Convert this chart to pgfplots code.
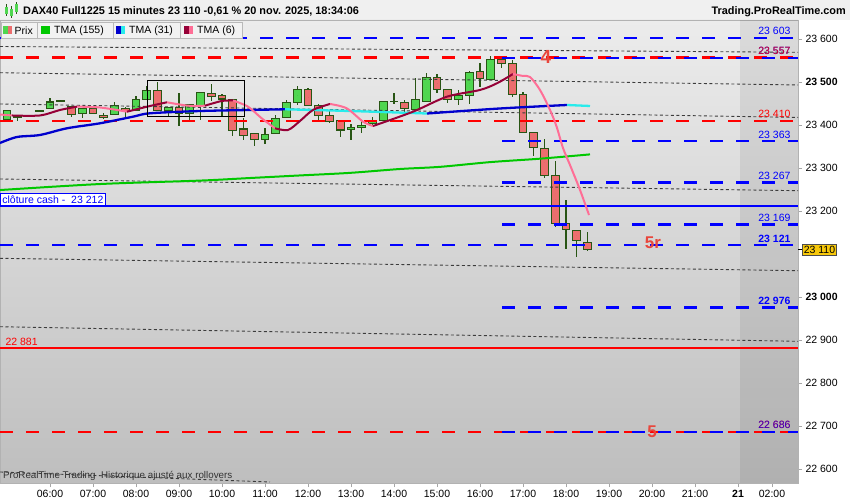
\documentclass[border=0pt]{standalone}
\usepackage{pgfplots}
\pgfplotsset{compat=1.18}
\usepackage{pgfplotstable}
\usepackage{fontspec}
\setmainfont{Liberation Sans}

\definecolor{wick}{RGB}{40,85,20}
\definecolor{upcol}{RGB}{80,214,80}
\definecolor{dncol}{RGB}{236,110,110}
\definecolor{tmagreen}{RGB}{0,200,0}
\definecolor{tmablue}{RGB}{0,0,205}
\definecolor{tmacyan}{RGB}{40,235,235}
\definecolor{tmared}{RGB}{150,0,55}
\definecolor{tmapink}{RGB}{255,110,150}
\definecolor{lvlblue}{RGB}{0,0,255}
\definecolor{lvlred}{RGB}{255,0,0}
\definecolor{annot}{RGB}{232,70,60}
\definecolor{bgtop}{RGB}{236,236,236}
\definecolor{bgbot}{RGB}{190,190,190}
\definecolor{trend}{RGB}{60,60,60}
\definecolor{lastp}{RGB}{247,200,10}
\definecolor{titlebg}{RGB}{240,240,240}
\definecolor{legbg}{RGB}{242,242,242}

\newcommand{\lbl}{\fontsize{10.5}{12}\selectfont}

% time (hours), open, high, low, close
\pgfplotstableread{
t O H L C
5.00 23414 23436 23412 23435
5.25 23420 23424 23410 23419
5.75 23434 23435 23433 23433
6.00 23439 23463 23439 23454
6.25 23457 23458 23456 23456
6.75 23427 23438 23417 23438
7.50 23425 23453 23425 23445
8.00 23435 23468 23434 23460
8.25 23460 23491 23459 23480
8.75 23433 23442 23418 23442
9.25 23428 23448 23413 23447
9.50 23445 23477 23413 23477
11.00 23367 23393 23356 23379
11.25 23381 23424 23381 23416
11.50 23418 23459 23418 23453
11.75 23453 23492 23447 23484
13.00 23390 23403 23365 23395
13.25 23395 23410 23382 23400
13.50 23403 23420 23396 23412
13.75 23410 23456 23409 23456
14.00 23455 23476 23449 23456
14.50 23437 23509 23437 23459
14.75 23455 23521 23455 23511
15.50 23460 23482 23447 23469
15.75 23469 23525 23449 23523
16.25 23507 23560 23507 23554
}\upcandles

\pgfplotstableread{
t O H L C
6.50 23443 23444 23420 23425
7.00 23438 23439 23426 23428
7.25 23423 23428 23415 23418
7.75 23439 23442 23416 23434
8.50 23480 23501 23433 23435
9.00 23442 23474 23399 23428
9.75 23474 23495 23457 23466
10.00 23469 23472 23418 23461
10.25 23460 23461 23376 23387
10.50 23391 23416 23366 23377
10.75 23381 23382 23352 23367
12.00 23484 23487 23444 23445
12.25 23445 23449 23412 23422
12.50 23423 23434 23406 23408
12.75 23410 23410 23373 23389
14.25 23453 23459 23430 23438
15.00 23511 23519 23474 23484
15.25 23484 23484 23451 23460
16.00 23526 23544 23490 23509
16.50 23554 23560 23532 23544
16.75 23544 23552 23466 23472
17.00 23472 23477 23381 23383
17.25 23383 23383 23328 23348
17.50 23346 23367 23278 23282
17.75 23282 23317 23164 23172
18.00 23172 23227 23112 23158
18.25 23154 23156 23094 23131
18.50 23127 23152 23108 23110
}\dncandles

\pgfplotsset{
  wickstyle/.style={only marks, no markers, mark size=0pt, forget plot,
    error bars/.cd, y dir=both, y explicit, error mark=none,
    error bar style={line width=1.3pt, draw=wick, solid}},
  bodyborder/.style={only marks, no markers, mark size=0pt, forget plot,
    error bars/.cd, y dir=both, y explicit, error mark=none,
    error bar style={line width=8.8pt, draw=wick, solid}},
  bodyfill/.style={only marks, no markers, mark size=0pt, forget plot,
    error bars/.cd, y dir=both, y explicit, error mark=none,
    error bar style={line width=6.8pt, draw=#1, solid}},
  reddash/.style={draw=lvlred, line width=2.6pt, dash pattern=on 12.7pt off 13.3pt},
  bluedash/.style={draw=lvlblue, line width=2.4pt, dash pattern=on 12.7pt off 13.3pt},
  trendl/.style={draw=trend, line width=0.9pt, dash pattern=on 3pt off 2.5pt},
}

\begin{document}
\begin{tikzpicture}
\useasboundingbox (0pt,0pt) rectangle (850pt,500pt);
\fill[white] (0pt,0pt) rectangle (850pt,500pt);
\fill[titlebg] (0pt,480pt) rectangle (850pt,500pt);
\begin{axis}[
  at={(0pt,17pt)}, anchor=south west, scale only axis,
  width=798pt, height=463pt,
  xmin=4.8372, xmax=23.3953, ymin=22566.95, ymax=23644.9,
  scaled ticks=false,
  axis background/.style={top color=bgtop, bottom color=bgbot},
  axis line style={draw=gray!60, line width=0.6pt},
  xtick={6,7,8,9,10,11,12,13,14,15,16,17,18,19,20,21,22,22.79},
  xticklabels={06:00,07:00,08:00,09:00,10:00,11:00,12:00,13:00,14:00,15:00,16:00,17:00,18:00,19:00,20:00,21:00,\textbf{21},02:00},
  ytick={22600,22700,22800,22900,23000,23200,23300,23400,23500,23600},
  yticklabels={22 600,22 700,22 800,22 900,\textbf{23 000},23 200,23 300,23 400,\textbf{23 500},23 600},
  xtick pos=bottom, ytick pos=right, yticklabel pos=right,
  tick align=outside, major tick length=4pt,
  tick style={draw=gray!70, line width=0.6pt},
  tick label style={font=\lbl, text=black},
]
% future region
\fill[black, opacity=0.07] (axis cs:22.047,22566.95) rectangle (axis cs:23.3953,23644.9);

% candles
\addplot[wickstyle] table[x=t, y expr={(\thisrow{H}+\thisrow{L})/2}, y error expr={(\thisrow{H}-\thisrow{L})/2}] {\upcandles};
\addplot[wickstyle] table[x=t, y expr={(\thisrow{H}+\thisrow{L})/2}, y error expr={(\thisrow{H}-\thisrow{L})/2}] {\dncandles};
\addplot[bodyborder] table[x=t, y expr={(\thisrow{O}+\thisrow{C})/2}, y error expr={abs(\thisrow{O}-\thisrow{C})/2+1.3}] {\upcandles};
\addplot[bodyborder] table[x=t, y expr={(\thisrow{O}+\thisrow{C})/2}, y error expr={abs(\thisrow{O}-\thisrow{C})/2+1.3}] {\dncandles};
\addplot[bodyfill=upcol] table[x=t, y expr={(\thisrow{O}+\thisrow{C})/2}, y error expr={max(abs(\thisrow{O}-\thisrow{C})/2-1.3,0)}] {\upcandles};
\addplot[bodyfill=dncol] table[x=t, y expr={(\thisrow{O}+\thisrow{C})/2}, y error expr={max(abs(\thisrow{O}-\thisrow{C})/2-1.3,0)}] {\dncandles};

% thin dashed trend lines
\addplot[trendl] coordinates {(4.8372,23583.2) (23.3953,23569.7)};
\addplot[trendl] coordinates {(4.8372,23522.2) (23.3953,23493.6)};
\addplot[trendl] coordinates {(4.8372,23449.4) (23.3953,23418.0)};
\addplot[trendl] coordinates {(4.8372,23274.7) (23.3953,23247.5)};
\addplot[trendl] coordinates {(4.8372,23090.1) (23.3953,23061.2)};
\addplot[trendl] coordinates {(4.8372,22930.8) (23.3953,22896.8)};
\addplot[trendl] coordinates {(4.8372,22592.6) (11.116,22569.3)};

% level lines
\addplot[bluedash] coordinates {(4.8372,23603) (23.3953,23603)};
\addplot[reddash] coordinates {(4.8372,23557) (23.3953,23557)};
\addplot[bluedash] coordinates {(16.512,23557) (23.3953,23557)};
\addplot[reddash] coordinates {(4.8372,23410) (23.3953,23410)};
\addplot[bluedash] coordinates {(16.512,23363) (23.3953,23363)};
\addplot[bluedash] coordinates {(16.512,23267) (23.3953,23267)};
\addplot[draw=lvlblue, line width=2pt] coordinates {(4.8372,23212) (23.3953,23212)};
\addplot[bluedash] coordinates {(16.512,23169) (23.3953,23169)};
\addplot[bluedash] coordinates {(4.8372,23121) (23.3953,23121)};
\addplot[bluedash] coordinates {(16.512,22976) (23.3953,22976)};
\addplot[draw=lvlred, line width=2.4pt] coordinates {(4.8372,22881) (23.3953,22881)};
\addplot[reddash] coordinates {(4.8372,22686) (23.3953,22686)};
\addplot[bluedash] coordinates {(16.512,22686) (23.3953,22686)};

% TMA 155
\addplot[draw=tmagreen, line width=2pt, smooth] coordinates {
(4.837,23249) (7.163,23263) (9.488,23271) (10.651,23277) (11.814,23283)
(12.977,23289) (14.140,23298) (15.070,23303) (16.233,23314) (17.395,23322) (18.558,23332)};

% TMA 31
\addplot[draw=tmablue, line width=2.3pt, smooth] coordinates {
(4.837,23358.6) (5.233,23372.5) (5.767,23377.2) (6.395,23392.8) (7.163,23404.4)
(7.930,23419.8) (8.326,23427.7) (9.488,23433.0) (10.651,23435.4) (11.465,23437.0)};
\addplot[draw=tmacyan, line width=2.3pt, smooth] coordinates {
(11.465,23437.0) (12.977,23433.0) (14.767,23427.2)};
\addplot[draw=tmablue, line width=2.3pt, smooth] coordinates {
(14.767,23427.2) (16.465,23438.9) (18.023,23447.0)};
\addplot[draw=tmacyan, line width=2.3pt] coordinates {
(18.023,23447.0) (18.558,23444.7)};

% TMA 6
\addplot[draw=tmapink, line width=2pt] coordinates {(4.837,23424.9) (5.116,23422.6)};
\addplot[draw=tmared, line width=2pt, smooth] coordinates {(5.116,23422.6) (5.767,23422.6) (6.233,23435.4) (6.628,23443.1)};
\addplot[draw=tmapink, line width=2pt, smooth] coordinates {(6.628,23443.1) (7.163,23441.2) (7.791,23431.4)};
\addplot[draw=tmared, line width=2pt, smooth] coordinates {(7.791,23431.4) (8.326,23444.7) (8.721,23453.3)};
\addplot[draw=tmapink, line width=2pt, smooth] coordinates {(8.721,23453.3) (9.209,23445.4) (9.605,23445.4)};
\addplot[draw=tmared, line width=2pt, smooth] coordinates {(9.605,23445.4) (9.993,23456.3) (10.256,23457.5)};
\addplot[draw=tmapink, line width=2pt, smooth] coordinates {(10.256,23457.5) (10.605,23443.1) (10.923,23416.0) (11.233,23392.8)};
\addplot[draw=tmared, line width=2pt, smooth] coordinates {(11.233,23392.8) (11.535,23388.8) (11.814,23409.8) (12.116,23435.4) (12.512,23449.4)};
\addplot[draw=tmapink, line width=2pt, smooth] coordinates {(12.512,23449.4) (12.9,23439.3) (13.279,23408.2) (13.512,23398.1)};
\addplot[draw=tmared, line width=2pt, smooth] coordinates {(13.512,23398.1) (14.442,23431.4) (15.233,23466.4) (16.0,23482.0) (16.395,23497.6) (16.767,23519.2)};
\addplot[draw=tmapink, line width=2pt, smooth] coordinates {(16.767,23519.2) (17.0,23514.6) (17.163,23512.2) (17.395,23482.0) (17.628,23435.4) (17.784,23395.8) (17.93,23346.9) (18.093,23307.3) (18.326,23249.1) (18.535,23190.9)};

% box around range
\draw[black, line width=1pt] (axis cs:8.263,23502.9) rectangle (axis cs:10.528,23419.8);

% right-side level labels
\node[anchor=base east, text=lvlblue, font=\lbl, xshift=-4pt, yshift=3pt] at (axis cs:23.3953,23603) {23 603};
\node[anchor=base east, text=lvlblue, font=\lbl, xshift=-4pt, yshift=3pt] at (axis cs:23.3953,23557) {23 557};
\node[anchor=base east, text=lvlred, font=\lbl, xshift=-4pt, yshift=3pt, opacity=0.85] at (axis cs:23.3953,23557) {23 557};
\node[anchor=base east, text=lvlred, font=\lbl, xshift=-4pt, yshift=3pt] at (axis cs:23.3953,23410) {23 410};
\node[anchor=base east, text=lvlblue, font=\lbl, xshift=-4pt, yshift=3pt] at (axis cs:23.3953,23363) {23 363};
\node[anchor=base east, text=lvlblue, font=\lbl, xshift=-4pt, yshift=3pt] at (axis cs:23.3953,23267) {23 267};
\node[anchor=base east, text=lvlblue, font=\lbl, xshift=-4pt, yshift=3pt] at (axis cs:23.3953,23169) {23 169};
\node[anchor=base east, text=lvlblue, font=\lbl\bfseries, xshift=-4pt, yshift=3pt] at (axis cs:23.3953,23121) {23 121};
\node[anchor=base east, text=lvlblue, font=\lbl\bfseries, xshift=-4pt, yshift=3pt] at (axis cs:23.3953,22976) {22 976};
\node[anchor=base east, text=lvlred, font=\lbl, xshift=-4pt, yshift=3pt] at (axis cs:23.3953,22686) {22 686};
\node[anchor=base east, text=lvlblue, font=\lbl, xshift=-4pt, yshift=3pt, opacity=0.8] at (axis cs:23.3953,22686) {22 686};

% left labels
\node[anchor=south west, draw=lvlblue, fill=white, text=lvlblue, font=\lbl, inner sep=2pt, line width=0.8pt] at (axis cs:4.8372,23213) {clôture cash -\ \ 23 212};
\node[anchor=base west, text=lvlred, font=\lbl, xshift=2pt, yshift=3pt] at (axis cs:4.8372,22881) {22 881};

% wave annotations
\node[text=annot, font=\fontsize{19}{20}\selectfont\bfseries] at (axis cs:17.535,23558.8) {4};
\node[text=annot, font=\fontsize{17}{18}\selectfont\bfseries] at (axis cs:20.02,23125.7) {5r};
\node[text=annot, font=\fontsize{17}{18}\selectfont\bfseries] at (axis cs:20.0,22685.7) {5};
\end{axis}

% bottom note
\node[anchor=base west, font=\fontsize{9.8}{11}\selectfont, text=black!80, inner sep=0pt] at (3pt,21.5pt) {ProRealTime Trading\ \ Historique ajusté aux rollovers};

% last price box
\draw[black, line width=1pt] (798pt,250.2pt) -- (802pt,250.2pt);
\node[anchor=west, fill=lastp, draw=gray!60!black, inner sep=1.5pt, font=\lbl, line width=0.5pt] at (802pt,250.2pt) {23 110};

% legend boxes
\draw[fill=legbg, draw=gray!55] (0.7pt,462pt) rectangle (37.3pt,478pt);
\draw[fill=legbg, draw=gray!55] (37.3pt,462pt) rectangle (112.7pt,478pt);
\draw[fill=legbg, draw=gray!55] (112.7pt,462pt) rectangle (180.3pt,478pt);
\draw[fill=legbg, draw=gray!55] (180.3pt,462pt) rectangle (242.3pt,478pt);
\fill[upcol] (3pt,465.5pt) rectangle (7.5pt,474pt);
\fill[dncol] (7.5pt,465.5pt) rectangle (12pt,474pt);
\node[anchor=west, font=\lbl, inner sep=0pt] at (14.5pt,469.7pt) {Prix};
\fill[tmagreen] (41pt,465.5pt) rectangle (50pt,474pt);
\node[anchor=west, font=\lbl, inner sep=0pt] at (54pt,469.7pt) {TMA (155)};
\fill[tmablue] (116pt,465.5pt) rectangle (120.5pt,474pt);
\fill[tmacyan] (120.5pt,465.5pt) rectangle (125pt,474pt);
\node[anchor=west, font=\lbl, inner sep=0pt] at (129pt,469.7pt) {TMA (31)};
\fill[tmared] (184pt,465.5pt) rectangle (188.5pt,474pt);
\fill[tmapink] (188.5pt,465.5pt) rectangle (193pt,474pt);
\node[anchor=west, font=\lbl, inner sep=0pt] at (197pt,469.7pt) {TMA (6)};

% title bar
\draw[wick, line width=0.8pt] (6pt,484pt) -- (6pt,496pt);
\fill[upcol] (4.5pt,486pt) rectangle (7.5pt,493pt);
\draw[wick, line width=0.8pt] (11pt,482pt) -- (11pt,494pt);
\fill[upcol] (9.5pt,484pt) rectangle (12.5pt,491pt);
\draw[wick, line width=0.8pt] (16pt,486pt) -- (16pt,498pt);
\fill[upcol] (14.5pt,488pt) rectangle (17.5pt,496pt);
\node[anchor=base west, font=\fontsize{10.9}{12}\selectfont\bfseries, inner sep=0pt] at (23pt,485pt) {DAX40 Full1225 15 minutes 23 110 -0,61 \% 20 nov. 2025, 18:34:06};
\node[anchor=base east, font=\fontsize{10.9}{12}\selectfont\bfseries, inner sep=0pt] at (846pt,485pt) {Trading.ProRealTime.com};
\end{tikzpicture}
\end{document}
